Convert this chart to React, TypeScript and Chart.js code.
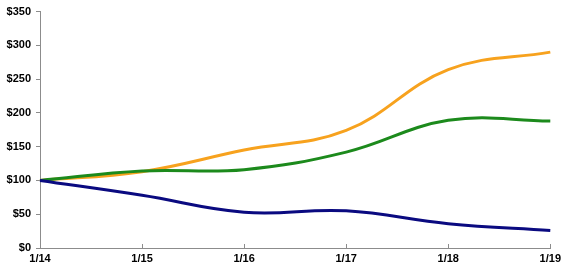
import React, { useEffect, useRef } from "react";
import { Chart, registerables } from "chart.js";

Chart.register(...registerables);

const categories = ["1/14", "1/15", "1/16", "1/17", "1/18", "1/19"];
const orangeValues = [100, 113, 145, 174, 264, 290];
const greenValues = [100, 114, 116, 142, 189, 188];
const navyValues = [100, 78, 53, 55, 36, 26];
const yTickMax = 350;
const yTickStep = 50;

const FONT = "'Liberation Sans', Arial, sans-serif";

const insideTicks = {
  id: "insideTicks",
  afterDraw(chart: any) {
    const { ctx, chartArea } = chart;
    const xs = chart.scales.x;
    ctx.save();
    ctx.strokeStyle = "#8c8c8c";
    ctx.lineWidth = 1;
    for (let i = 0; i < categories.length; i++) {
      const x = Math.round(xs.getPixelForValue(i)) + 0.5;
      ctx.beginPath();
      ctx.moveTo(x, chartArea.bottom - 4);
      ctx.lineTo(x, chartArea.bottom);
      ctx.stroke();
    }
    ctx.restore();
  },
};

export default function App() {
  const ref = useRef<HTMLCanvasElement | null>(null);
  useEffect(() => {
    if (!ref.current) return;
    const chart = new Chart(ref.current, {
      type: "line",
      data: {
        labels: categories,
        datasets: [
          { data: navyValues, borderColor: "#0a0a80", borderWidth: 3, pointRadius: 0, tension: 0.4 },
          { data: greenValues, borderColor: "#1c8a1c", borderWidth: 3, pointRadius: 0, tension: 0.4 },
          { data: orangeValues, borderColor: "#f7a21e", borderWidth: 3, pointRadius: 0, tension: 0.4 },
        ],
      },
      options: {
        animation: false,
        responsive: false,
        layout: { padding: { top: 8, right: 11, left: 0, bottom: 0 } },
        plugins: { legend: { display: false }, tooltip: { enabled: false } },
        scales: {
          x: {
            afterFit: (s: any) => { s.height = 23; },
            grid: { display: true, drawOnChartArea: false, drawTicks: false, color: "#8c8c8c" },
            border: { color: "#8c8c8c", width: 1 },
            ticks: { color: "#000", font: { family: FONT, size: 11, weight: "bold" }, padding: 4, maxRotation: 0 },
          },
          y: {
            min: 0,
            max: yTickMax,
            afterFit: (s: any) => { s.width = 40; },
            grid: { display: true, drawOnChartArea: false, tickLength: 4, color: "#8c8c8c" },
            border: { color: "#8c8c8c", width: 1 },
            ticks: {
              stepSize: yTickStep,
              color: "#000",
              padding: 5,
              font: { family: FONT, size: 11, weight: "bold" },
              callback: (v: any) => "$" + v,
            },
          },
        },
      },
      plugins: [insideTicks],
    });
    return () => chart.destroy();
  }, []);
  return (
    <div style={{ position: "fixed", left: 0, top: 0, width: 565, height: 271, background: "#fff" }}>
      <canvas ref={ref} width={565} height={271} style={{ display: "block" }} />
    </div>
  );
}
